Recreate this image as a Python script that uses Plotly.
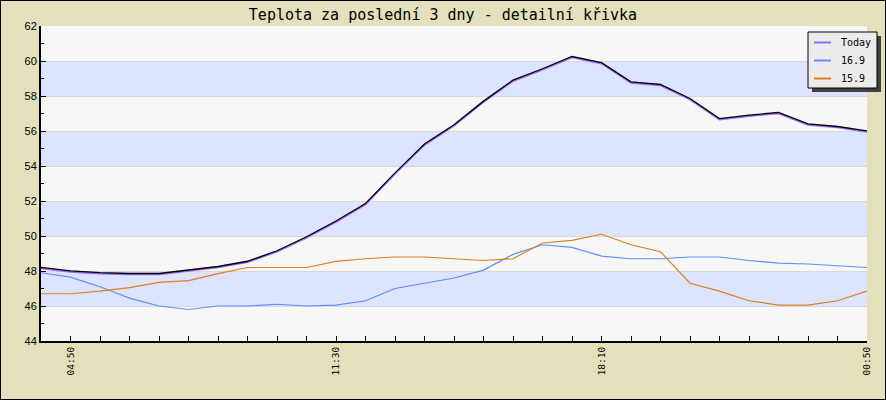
import plotly.graph_objects as go

# ---- data ----
idx = list(range(29))
tick_idx = [1, 10, 19, 28]
tick_text = ["04:50", "11:30", "18:10", "00:50"]

today = [48.15, 47.95, 47.85, 47.8, 47.8, 48.0, 48.2, 48.5, 49.1, 49.9,
         50.8, 51.8, 53.55, 55.2, 56.3, 57.65, 58.85, 59.5, 60.2, 59.85,
         58.75, 58.6, 57.8, 56.65, 56.85, 57.0, 56.35, 56.2, 55.95]
d169 = [47.9, 47.65, 47.1, 46.45, 46.0, 45.8, 46.0, 46.0, 46.1, 46.0,
        46.05, 46.3, 47.0, 47.3, 47.6, 48.05, 48.95, 49.5, 49.35, 48.85,
        48.7, 48.7, 48.8, 48.8, 48.6, 48.45, 48.4, 48.3, 48.2]
d159 = [46.7, 46.7, 46.85, 47.05, 47.35, 47.45, 47.85, 48.2, 48.2, 48.2,
        48.55, 48.7, 48.8, 48.8, 48.7, 48.6, 48.7, 49.6, 49.75, 50.1,
        49.5, 49.1, 47.3, 46.85, 46.3, 46.05, 46.05, 46.3, 46.85]

names = ["Today", "16.9", "15.9"]
colors = ["#9966ff", "#5f8fff", "#dd7f1f"]

# ---- layout geometry ----
W, H = 886, 400
ML, MR, MT, MB = 41, 19, 26, 59
PW, PH = W - ML - MR, H - MT - MB
YMIN, YMAX = 44, 62
px = (YMAX - YMIN) / PH  # data units per pixel


def fx(p):  # pixel x -> paper x
    return (p - ML) / PW


def fy(p):  # pixel y -> paper y
    return (H - MB - p) / PH


fig = go.Figure()

fig.add_trace(go.Scatter(x=idx, y=d169, name=names[1], mode="lines",
                         line=dict(color=colors[1], width=1.2)))
fig.add_trace(go.Scatter(x=idx, y=d159, name=names[2], mode="lines",
                         line=dict(color=colors[2], width=1.2)))
fig.add_trace(go.Scatter(x=idx, y=today, name=names[0], mode="lines",
                         line=dict(color=colors[0], width=1.6)))
# dark shadow line, 1px above
fig.add_trace(go.Scatter(x=idx, y=today, mode="lines", yaxis="y2",
                         line=dict(color="#000000", width=1.3)))

shapes = []
# bands
for lo in range(46, 62, 4):
    shapes.append(dict(type="rect", xref="paper", yref="y", x0=0, x1=1, y0=lo, y1=lo + 2,
                       fillcolor="#dde4ff", line=dict(width=0), layer="below"))

# legend (drawn manually): shadow, box, samples
LX0, LX1, LY0, LY1 = 808, 877, 32, 88
shapes.append(dict(type="rect", xref="paper", yref="paper",
                   x0=fx(LX0 + 4), x1=fx(LX1 + 4), y0=fy(LY1 + 4), y1=fy(LY0 + 4),
                   fillcolor="#404040", line=dict(width=0), layer="above"))
shapes.append(dict(type="rect", xref="paper", yref="paper",
                   x0=fx(LX0), x1=fx(LX1), y0=fy(LY1), y1=fy(LY0),
                   fillcolor="#ebebeb", line=dict(color="#000000", width=1), layer="above"))
annotations = []
for k, (nm, col) in enumerate(zip(names, colors)):
    yy = 42.5 + 18 * k
    shapes.append(dict(type="line", xref="paper", yref="paper",
                       x0=fx(814), x1=fx(831), y0=fy(yy), y1=fy(yy),
                       line=dict(color=col, width=2), layer="above"))
    annotations.append(dict(text=nm, xref="paper", yref="paper", x=fx(839), y=fy(yy),
                            xanchor="left", yanchor="middle", showarrow=False,
                            font=dict(family="DejaVu Sans Mono", size=10, color="#000000")))

# outer frame
shapes.append(dict(type="rect", xref="paper", yref="paper",
                   x0=-ML / PW, x1=1 + MR / PW, y0=-MB / PH, y1=1 + MT / PH,
                   line=dict(color="#000000", width=2), fillcolor="rgba(0,0,0,0)", layer="above"))

fig.update_layout(
    width=W, height=H,
    margin=dict(l=ML, r=MR, t=MT, b=MB, autoexpand=False),
    paper_bgcolor="#e3e0bb",
    plot_bgcolor="#f7f7f7",
    showlegend=False,
    title=dict(text="Teplota za poslední 3 dny - detailní křivka",
               x=0.5, xanchor="center", xref="container", y=1 - 15 / H, yanchor="middle",
               font=dict(family="DejaVu Sans Mono", size=15, color="#000000")),
    xaxis=dict(range=[0, 28], tickvals=tick_idx, ticktext=tick_text, tickangle=-90,
               ticks="inside", ticklen=5, tickcolor="#000000", tickwidth=1,
               showgrid=False, zeroline=False,
               showline=True, linecolor="#000000", linewidth=2,
               minor=dict(ticks="inside", ticklen=5, dtick=1, tick0=0, tickcolor="#000000", showgrid=False),
               tickfont=dict(family="DejaVu Sans Mono", size=9.5, color="#000000")),
    yaxis=dict(range=[YMIN, YMAX], dtick=2, tick0=44,
               ticks="inside", ticklen=5, tickcolor="#000000", tickwidth=1,
               showgrid=True, gridcolor="#d8d8d8", gridwidth=1, zeroline=False,
               showline=True, linecolor="#000000", linewidth=2,
               minor=dict(ticks="inside", ticklen=3, dtick=1, tickcolor="#000000", showgrid=False),
               tickfont=dict(family="Liberation Sans", size=11, color="#000000")),
    yaxis2=dict(range=[YMIN - px, YMAX - px], overlaying="y", visible=False),
    shapes=shapes,
    annotations=annotations,
)

fig.write_html("out.html")
